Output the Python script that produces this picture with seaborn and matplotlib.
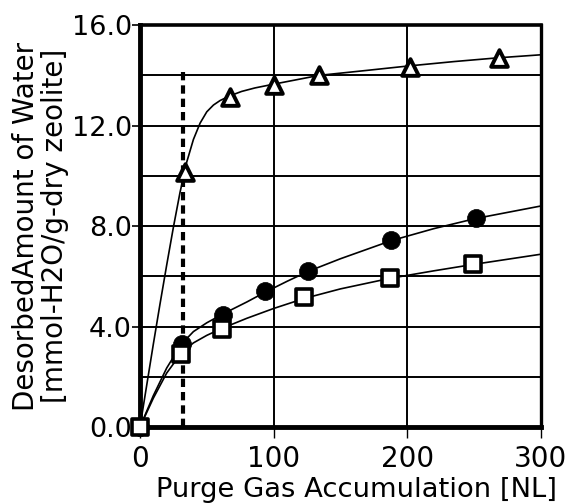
import matplotlib
matplotlib.use("Agg")
import matplotlib.pyplot as plt
import seaborn as sns
from matplotlib.ticker import MultipleLocator

# measured points
tri_x = [33.7, 67, 100, 134, 202, 268.5]
tri_y = [10.15, 13.15, 13.6, 14.0, 14.35, 14.7]
cir_x = [0, 31.2, 61.8, 93.5, 126, 188, 251.3]
cir_y = [0, 3.3, 4.46, 5.43, 6.23, 7.45, 8.31]
sq_x = [0, 30.9, 61.3, 122.9, 187, 249.3]
sq_y = [0, 2.9, 3.92, 5.19, 5.92, 6.49]

# fitted curves
tri_fit_x = [0, 5, 10, 15, 20, 25, 30, 35, 40, 45, 50, 55, 60, 67, 76, 86, 100, 134, 170, 200, 235, 268, 300]
tri_fit_y = [0, 1.65, 3.3, 4.9, 6.45, 7.95, 9.35, 10.55, 11.45, 12.1, 12.55, 12.82, 13.0,
             13.18, 13.36, 13.5, 13.65, 14.0, 14.2, 14.37, 14.55, 14.7, 14.82]
cir_fit_x = [0, 10, 20, 31, 40, 50, 62, 80, 93, 110, 126, 150, 188, 220, 251, 300]
cir_fit_y = [0, 1.25, 2.35, 3.3, 3.8, 4.15, 4.5, 4.98, 5.35, 5.8, 6.2, 6.7, 7.42, 7.9, 8.3, 8.8]
sq_fit_x = [0, 10, 20, 31, 40, 50, 61, 80, 100, 123, 150, 187, 220, 249, 300]
sq_fit_y = [0, 1.15, 2.15, 2.95, 3.35, 3.65, 3.92, 4.33, 4.72, 5.12, 5.5, 5.92, 6.22, 6.47, 6.88]

vline_x = 32
vline_top = 14.3

x_ticks = [0, 100, 200, 300]
y_ticks = [0, 4, 8, 12, 16]
y_tick_labels = ["0.0", "4.0", "8.0", "12.0", "16.0"]

sns.set_style("white")
plt.rcParams['font.family'] = ['DejaVu Sans']

fig = plt.figure(figsize=(5.76, 5.03), dpi=100)
ax = fig.add_axes([0.243, 0.151, 0.696, 0.799])

# curves
for fx, fy in [(tri_fit_x, tri_fit_y), (cir_fit_x, cir_fit_y), (sq_fit_x, sq_fit_y)]:
    sns.lineplot(x=fx, y=fy, ax=ax, color='black', linewidth=1.2, sort=False, zorder=3)

# dotted vertical line
ax.plot([vline_x, vline_x], [0, vline_top], color='black', linewidth=3,
        linestyle=(0, (2.0, 1.2)), zorder=3)

sns.scatterplot(x=tri_x, y=tri_y, ax=ax, marker='^', s=12**2, facecolor='white',
                edgecolor='black', linewidth=2.8, zorder=5, clip_on=False)
sns.scatterplot(x=cir_x, y=cir_y, ax=ax, marker='o', s=13**2, color='black',
                edgecolor='black', linewidth=0.5, zorder=5, clip_on=False)
sns.scatterplot(x=sq_x, y=sq_y, ax=ax, marker='s', s=11**2, facecolor='white',
                edgecolor='black', linewidth=2.6, zorder=6, clip_on=False)

ax.set_xlim(0, 300)
ax.set_ylim(0, 16)
ax.set_xticks(x_ticks)
ax.set_yticks(y_ticks)
ax.set_yticklabels(y_tick_labels)
ax.yaxis.set_minor_locator(MultipleLocator(2))
ax.grid(True, which='both', color='black', linewidth=1.4)
ax.set_axisbelow(True)

ax.tick_params(axis='y', which='major', direction='out', length=6, width=1.2,
               pad=0, labelsize=19.5, left=True, colors='black')
ax.tick_params(axis='y', which='minor', length=0)
ax.tick_params(axis='x', which='major', direction='out', length=8, width=1.0,
               pad=5, labelsize=20, bottom=True, colors='black')

for side, lw in [('left', 3.5), ('bottom', 3.5), ('top', 2.6), ('right', 2.4)]:
    ax.spines[side].set_visible(True)
    ax.spines[side].set_color('black')
    ax.spines[side].set_linewidth(lw)
    ax.spines[side].set_zorder(4)

ax.set_xlabel("Purge Gas Accumulation [NL]", fontsize=19.7, labelpad=3, color='black', x=0.541)
ax.set_ylabel("DesorbedAmount of Water\n[mmol-H2O/g-dry zeolite]", fontsize=20,
              labelpad=2, color='black', linespacing=1.05)

fig.savefig("out.png", dpi=100)
